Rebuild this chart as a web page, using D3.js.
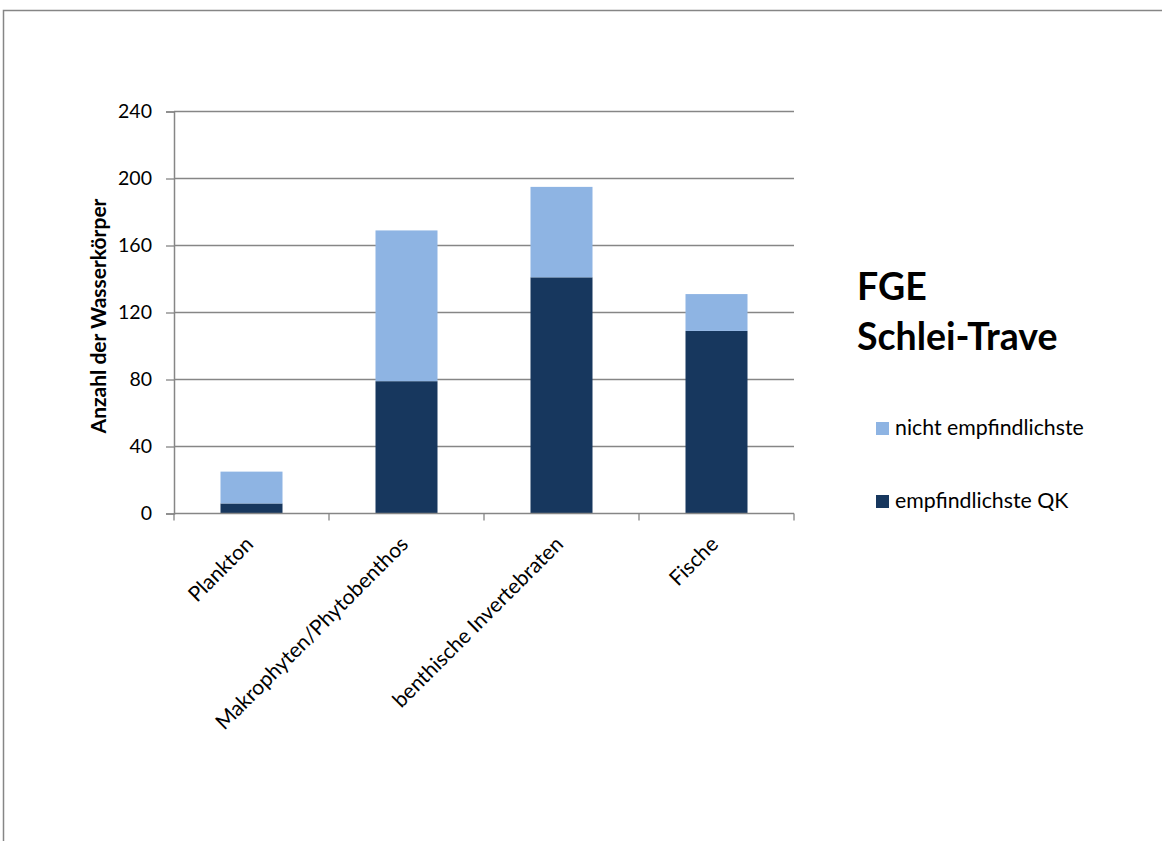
<!DOCTYPE html>
<html>
<head>
<meta charset="utf-8">
<script src="https://cdn.jsdelivr.net/npm/d3@7/dist/d3.min.js"></script>
<style>
  html, body { margin: 0; padding: 0; background: #fff; }
  svg { display: block; font-family: Lato, "Open Sans", sans-serif; }
</style>
</head>
<body>
<svg id="chart" width="1162" height="841"></svg>
<script>
// Wasserkörper je Qualitätskomponente, FGE Schlei-Trave
const categories = ["Plankton", "Makrophyten/Phytobenthos", "benthische Invertebraten", "Fische"];
const empfindlichsteQK = [6, 79, 141, 109];
const nichtEmpfindlichste = [19, 90, 54, 22];
const yTicks = [0, 40, 80, 120, 160, 200, 240];
const seriesNames = ["nicht empfindlichste", "empfindlichste QK"];
const seriesColors = ["#8EB4E3", "#17375E"];

const svg = d3.select("#chart");

// outer frame
svg.append("rect")
  .attr("x", 3.5).attr("y", 10.5)
  .attr("width", 1200).attr("height", 900)
  .attr("fill", "none").attr("stroke", "#868686").attr("stroke-width", 1.5);

const plot = { left: 174, right: 794, top: 111.5, bottom: 513.5 };

const x = d3.scaleBand()
  .domain(categories)
  .range([plot.left, plot.right])
  .paddingInner(0.6)
  .paddingOuter(0.3);

const y = d3.scaleLinear()
  .domain([0, 240])
  .range([plot.bottom, plot.top]);

// horizontal gridlines
svg.append("g").selectAll("line")
  .data(yTicks.filter(d => d > 0))
  .join("line")
  .attr("x1", plot.left).attr("x2", plot.right)
  .attr("y1", d => y(d)).attr("y2", d => y(d))
  .attr("stroke", "#868686").attr("stroke-width", 1.3);

// stacked bars
const rows = categories.map((c, i) => ({ cat: c, empf: empfindlichsteQK[i], nicht: nichtEmpfindlichste[i] }));
const stack = d3.stack().keys(["empf", "nicht"])(rows);
const colorByKey = { empf: seriesColors[1], nicht: seriesColors[0] };

svg.append("g").selectAll("g")
  .data(stack)
  .join("g")
  .attr("fill", d => colorByKey[d.key])
  .selectAll("rect")
  .data(d => d)
  .join("rect")
  .attr("x", d => x(d.data.cat))
  .attr("width", x.bandwidth())
  .attr("y", d => y(d[1]))
  .attr("height", d => y(d[0]) - y(d[1]));

// y axis
const yAxis = d3.axisLeft(y).tickValues(yTicks).tickSize(8).tickPadding(14);
const gy = svg.append("g").attr("transform", `translate(${plot.left},0)`).call(yAxis);
gy.select(".domain").attr("stroke", "#868686").attr("stroke-width", 1.5);
gy.selectAll(".tick line").attr("stroke", "#868686").attr("stroke-width", 1.3);
gy.selectAll(".tick text").attr("font-size", 19.5).attr("fill", "#000").attr("font-family", "Lato, sans-serif");

// x axis: baseline and ticks on the category boundaries
svg.append("line")
  .attr("x1", plot.left).attr("x2", plot.right)
  .attr("y1", plot.bottom).attr("y2", plot.bottom)
  .attr("stroke", "#868686").attr("stroke-width", 1.5);
const step = x.step();
const boundaryXs = [plot.left].concat(categories.map(c => x(c) + x.bandwidth() / 2 + step / 2));
svg.append("g").selectAll("line")
  .data(boundaryXs)
  .join("line")
  .attr("x1", d => d).attr("x2", d => d)
  .attr("y1", plot.bottom).attr("y2", plot.bottom + 7)
  .attr("stroke", "#868686").attr("stroke-width", 1.3);

// rotated category labels
svg.append("g").selectAll("text")
  .data(categories)
  .join("text")
  .attr("transform", c => `translate(${x(c) + x.bandwidth() / 2 + 3},${plot.bottom + 32}) rotate(-45)`)
  .attr("text-anchor", "end")
  .attr("font-size", 21)
  .attr("fill", "#000")
  .text(c => c);

// y axis title
svg.append("text")
  .attr("transform", `translate(106,${316}) rotate(-90)`)
  .attr("text-anchor", "middle")
  .attr("font-size", 21)
  .attr("font-weight", "bold")
  .attr("fill", "#000")
  .text("Anzahl der Wasserkörper");

// chart title
const title = svg.append("text")
  .attr("x", 857).attr("font-size", 37.5).attr("font-weight", "bold").attr("fill", "#000");
title.append("tspan").attr("x", 857).attr("y", 300).text("FGE");
title.append("tspan").attr("x", 857).attr("y", 350).text("Schlei-Trave");

// legend
const legend = svg.append("g").selectAll("g")
  .data(seriesNames)
  .join("g")
  .attr("transform", (d, i) => `translate(876,${422 + i * 73})`);
legend.append("rect")
  .attr("width", 13).attr("height", 13)
  .attr("fill", (d, i) => seriesColors[i]);
legend.append("text")
  .attr("x", 19).attr("y", 13)
  .attr("font-size", 21.3)
  .attr("fill", "#000")
  .text(d => d);
</script>
</body>
</html>
